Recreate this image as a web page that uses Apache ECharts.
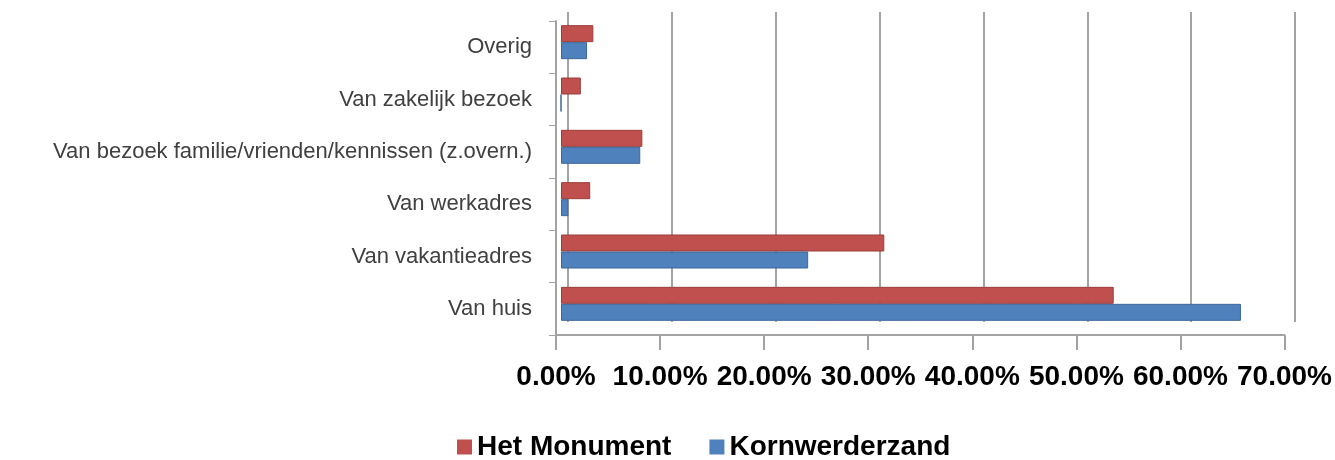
<!DOCTYPE html>
<html lang="nl">
<head>
    <meta charset="UTF-8">
    <title>Vertrekpunt</title>
    <script src="https://cdn.jsdelivr.net/npm/echarts@6/dist/echarts.min.js"></script>
    <style>
        html, body { margin: 0; padding: 0; background: #fff; }
        #main { width: 1335px; height: 460px; }
    </style>
</head>
<body>
<div id="main"></div>
<script>
    // categorieen (van boven naar beneden)
    const categories = [
        'Overig',
        'Van zakelijk bezoek',
        'Van bezoek familie/vrienden/kennissen (z.overn.)',
        'Van werkadres',
        'Van vakantieadres',
        'Van huis'
    ];
    // aandelen als fractie
    const hetMonument = [0.031, 0.019, 0.078, 0.028, 0.310, 0.530];
    const kornwerderzand = [0.025, 0, 0.076, 0.007, 0.237, 0.652];
    const xTicks = [0, 0.1, 0.2, 0.3, 0.4, 0.5, 0.6, 0.7];

    const chart = echarts.init(document.getElementById('main'));

    const grey = '#a3a3a3';
    const xMin = xTicks[0];
    const xMax = xTicks[xTicks.length - 1];

    const option = {
        animation: false,
        // 0 = voorkant (assen + labels), 1 = achterwand (rasterlijnen), 2 = balken
        grid: [
            { left: 556, right: 49, top: 21, bottom: 125 },
            { left: 568, right: 40, top: 12, bottom: 138 },
            { left: 561, right: 44, top: 16, bottom: 130 }
        ],
        legend: {
            left: 452,
            top: 428,
            itemWidth: 15,
            itemHeight: 15,
            itemGap: 38,
            icon: 'rect',
            itemStyle: { borderWidth: 0 },
            textStyle: {
                fontFamily: 'Liberation Sans',
                fontSize: 28,
                fontWeight: 'bold',
                color: '#000'
            },
            data: ['Het Monument', 'Kornwerderzand']
        },
        xAxis: [
            {
                gridIndex: 0,
                type: 'value',
                min: xMin,
                max: xMax,
                interval: 0.1,
                axisLine: { show: true, lineStyle: { color: grey, width: 2 } },
                axisTick: { show: true, length: 15, lineStyle: { color: grey, width: 2 } },
                splitLine: { show: false },
                axisLabel: {
                    margin: 28,
                    fontFamily: 'Liberation Sans',
                    fontSize: 28,
                    fontWeight: 'bold',
                    color: '#000',
                    formatter: v => (v * 100).toFixed(2) + '%'
                }
            },
            {
                gridIndex: 1,
                type: 'value',
                min: xMin,
                max: xMax,
                interval: 0.1,
                axisLine: { show: false },
                axisTick: { show: false },
                axisLabel: { show: false },
                splitLine: { show: true, lineStyle: { color: grey, width: 2 } }
            },
            {
                gridIndex: 2,
                type: 'value',
                min: xMin,
                max: xMax,
                show: false
            }
        ],
        yAxis: [
            {
                gridIndex: 0,
                type: 'category',
                inverse: true,
                data: categories,
                axisLine: { show: true, lineStyle: { color: grey, width: 2 } },
                axisTick: { show: true, length: 7, lineStyle: { color: grey, width: 1 } },
                axisLabel: {
                    margin: 24,
                    fontFamily: 'Liberation Sans',
                    fontSize: 22,
                    color: '#404040'
                }
            },
            {
                gridIndex: 1,
                type: 'category',
                inverse: true,
                data: categories,
                axisLine: { show: false },
                axisTick: { show: false },
                axisLabel: { show: false }
            },
            {
                gridIndex: 2,
                type: 'category',
                inverse: true,
                data: categories,
                show: false
            }
        ],
        series: [
            {
                name: 'Het Monument',
                type: 'bar',
                xAxisIndex: 2,
                yAxisIndex: 2,
                data: hetMonument,
                barWidth: 17,
                barGap: '0%',
                itemStyle: { color: '#C0504D', borderColor: '#9c3d3a', borderWidth: 1 }
            },
            {
                name: 'Kornwerderzand',
                type: 'bar',
                xAxisIndex: 2,
                yAxisIndex: 2,
                data: kornwerderzand,
                barWidth: 17,
                barGap: '0%',
                itemStyle: { color: '#4F81BD', borderColor: '#3d6798', borderWidth: 1 }
            }
        ]
    };

    chart.setOption(option);
</script>
</body>
</html>
